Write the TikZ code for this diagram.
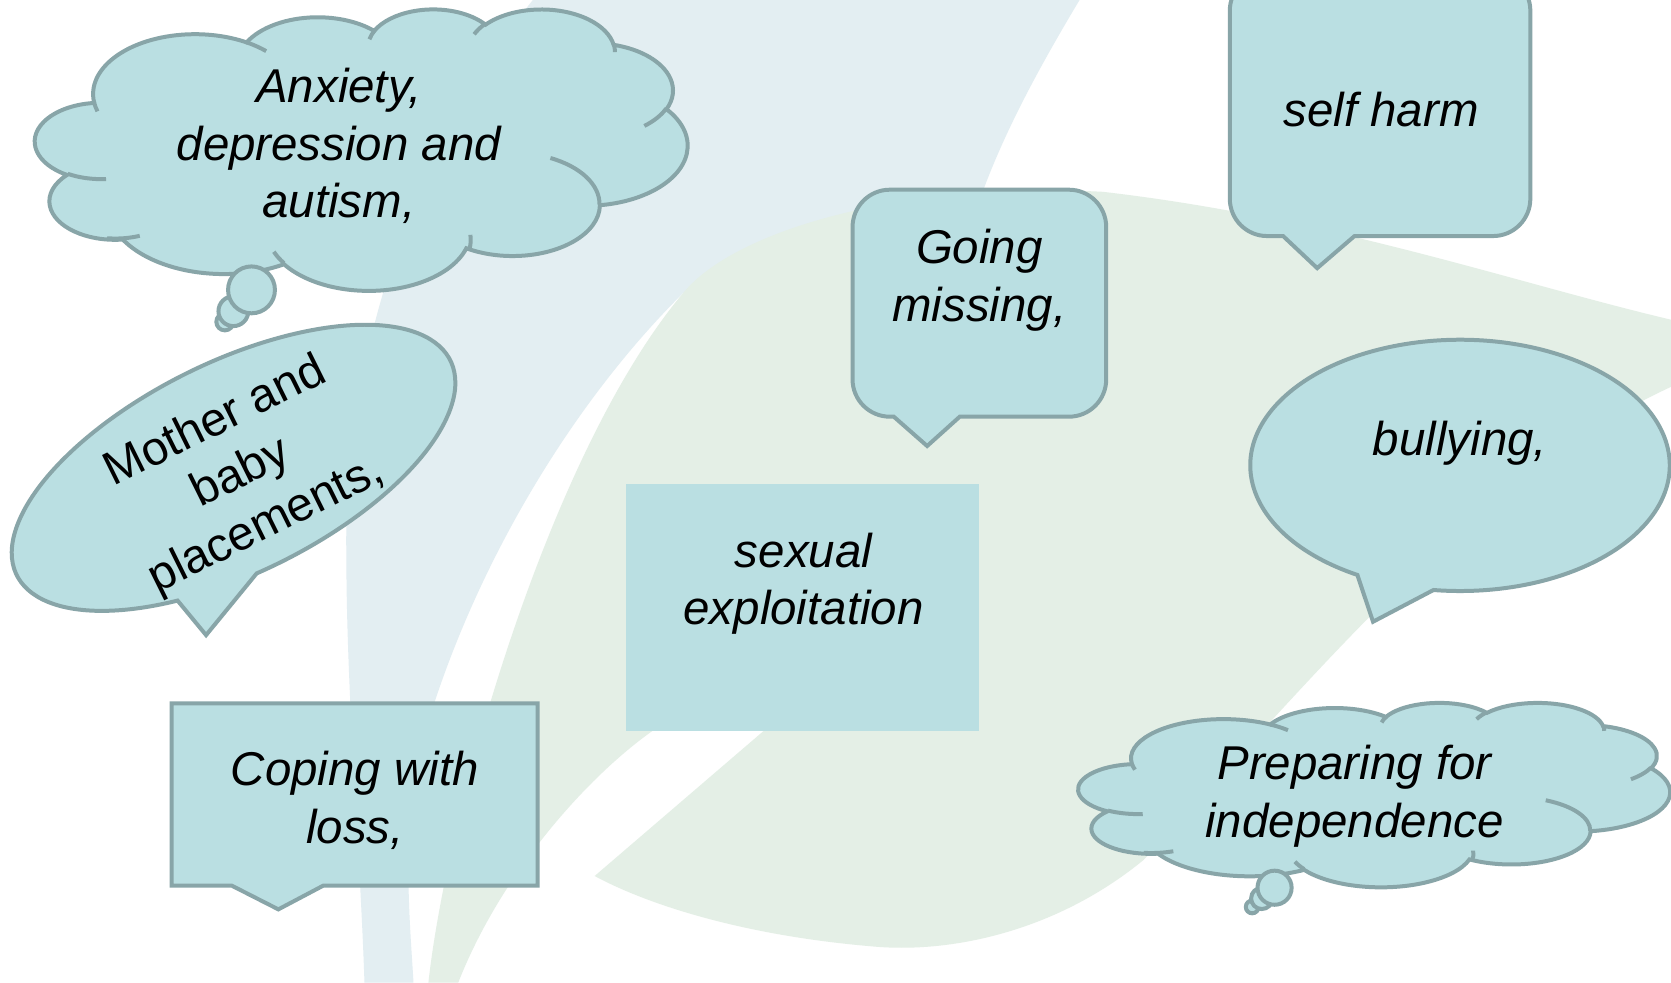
\documentclass[tikz,border=0pt]{standalone}
\usepackage{fontspec}
\setmainfont{Liberation Sans}
\definecolor{fillc}{HTML}{BADFE2}
\definecolor{linec}{HTML}{88A5A8}
\definecolor{bgblue}{HTML}{E3EEF2}
\definecolor{bggreen}{HTML}{E4EFE6}
\tikzset{
  bubble/.style={fill=fillc, draw=linec, line width=3.2pt},
  innerarc/.style={draw=linec, line width=3.2pt},
  plainbox/.style={fill=fillc},
  lbl/.style={font=\fontsize{38}{46}\selectfont\itshape, align=center, inner sep=0pt, text=black},
  lblup/.style={font=\fontsize{38}{46}\selectfont, align=center, inner sep=0pt, text=black},
}
\newcommand\mycloud[4]{%
\begin{scope}[shift={(#1,#2)},xscale=#3,yscale=#4]
\draw[bubble] (39.00,143.70)
 arc[start angle=-187.75, delta angle=128.11, x radius=67.53, y radius=91.90]
 arc[start angle=-152.03, delta angle=106.58, x radius=53.33, y radius=72.67]
 arc[start angle=-153.50, delta angle=116.17, x radius=43.65, y radius=59.45]
 arc[start angle=-139.72, delta angle=129.51, x radius=48.57, y radius=65.95]
 arc[start angle=-74.77, delta angle=97.98, x radius=53.33, y radius=72.73]
 arc[start angle=-37.54, delta angle=119.40, x radius=67.75, y radius=92.20]
 arc[start angle=0.46, delta angle=121.51, x radius=57.85, y radius=78.67]
 arc[start angle=16.84, delta angle=129.38, x radius=67.52, y radius=92.15]
 arc[start angle=58.98, delta angle=91.21, x radius=77.20, y radius=105.43]
 arc[start angle=-276.69, delta angle=139.80, x radius=43.60, y radius=59.18]
 arc[start angle=-239.64, delta angle=143.75, x radius=43.45, y radius=59.45]
 -- cycle;
\end{scope}}
\newcommand\mycloudlines[4]{%
\begin{scope}[shift={(#1,#2)},xscale=#3,yscale=#4]
\draw[innerarc]
 (46.93,261.77) arc[start angle=85.55, delta angle=34.81, x radius=43.45, y radius=59.45]
 (69.28,348.99) arc[start angle=68.24, delta angle=28.92, x radius=43.60, y radius=59.18]
 (164.78,390.90) arc[start angle=146.22, delta angle=12.26, x radius=67.52, y radius=92.15]
 (288.27,347.51) arc[start angle=-4.74, delta angle=14.76, x radius=67.52, y radius=92.15]
 (341.29,229.54) arc[start angle=-64.03, delta angle=64.49, x radius=57.85, y radius=78.67]
 (417.98,153.54) arc[start angle=23.21, delta angle=26.44, x radius=53.33, y radius=72.73]
 (383.24,54.26) arc[start angle=-10.21, delta angle=11.03, x radius=48.57, y radius=65.95]
 (290.78,39.52) arc[start angle=-156.29, delta angle=16.57, x radius=48.57, y radius=65.95]
 (221.41,47.20) arc[start angle=-167.73, delta angle=14.23, x radius=43.65, y radius=59.45]
 (140.00,51.92) arc[start angle=-59.64, delta angle=13.91, x radius=67.53, y radius=91.90]
 (41.27,157.89) arc[start angle=163.19, delta angle=9.06, x radius=67.53, y radius=91.90];
\end{scope}}
\begin{document}
\begin{tikzpicture}[x=0.03cm,y=-0.03cm]
\useasboundingbox (0,0) rectangle (1568,922);
\fill[white] (0,0) rectangle (1568,922);
% background leaves
\fill[bgblue] (500,0) -- (1013,0) .. controls (965,80) and (935,140) .. (915,200) -- (641,275)
  .. controls (525,390) and (430,560) .. (390,720) .. controls (378,800) and (385,870) .. (388,922)
  -- (342,922) .. controls (338,800) and (325,650) .. (325,520) .. controls (322,350) and (380,150) .. (500,0) -- cycle;
\fill[bggreen] (641,275) .. controls (690,215) and (850,170) .. (1035,180)
  .. controls (1250,205) and (1420,265) .. (1568,300) -- (1568,363)
  .. controls (1380,450) and (1230,640) .. (1073,807)
  .. controls (990,875) and (890,895) .. (818,888)
  .. controls (700,878) and (610,850) .. (558,822) -- (770,640) -- (612,686)
  .. controls (550,730) and (470,820) .. (430,922) -- (402,922)
  .. controls (420,760) and (515,425) .. (641,275) -- cycle;
% cloud 1
\mycloud{33}{8}{1.41667}{0.61111}
\draw[bubble] (211,302) circle[radius=8];
\draw[bubble] (219,292) circle[radius=14];
\draw[bubble] (236,272) circle[radius=22];
\mycloudlines{33}{8}{1.41667}{0.61111}
\node[lbl] (anx) at (318,137) {Anxiety,\\depression and\\autism,};
% cloud 2
\mycloud{1012}{659}{1.28472}{0.40046}
\draw[bubble] (1175,851) circle[radius=6];
\draw[bubble] (1184,843) circle[radius=10];
\draw[bubble] (1196,833) circle[radius=16];
\mycloudlines{1012}{659}{1.28472}{0.40046}
\node[lbl] (prep) at (1271,747) {Preparing for\\independence};
% self harm
\draw[bubble] (1189,-25) -- (1401,-25) arc[start angle=270, end angle=360, radius=35]
  -- (1436,186.5) arc[start angle=0, end angle=90, radius=35]
  -- (1271,221.5) -- (1236,251.6) -- (1204,221.5) -- (1189,221.5)
  arc[start angle=90, end angle=180, radius=35] -- (1154,10)
  arc[start angle=180, end angle=270, radius=35] -- cycle;
\node[lbl] (self) at (1296,103) {self harm};
% going missing
\draw[bubble] (835,178) -- (1003,178) arc[start angle=270, end angle=360, radius=35]
  -- (1038,356) arc[start angle=0, end angle=90, radius=35]
  -- (900.6,391) -- (870,418.5) -- (838.7,391) -- (835,391)
  arc[start angle=90, end angle=180, radius=35] -- (800,213)
  arc[start angle=180, end angle=270, radius=35] -- cycle;
\node[lbl] (going) at (919,263) {Going\\missing,};
% bullying
\draw[bubble] (1273.7,539.5) arc[start angle=119.3, end angle=457.27, x radius=196.8, y radius=117.9]
  -- (1288.4,583.4) -- cycle;
\node[lbl] (bully) at (1370,416) {bullying,};
% mother and baby
\begin{scope}[shift={(219,439)},rotate=26.34]
\draw[bubble] (-102.2,88.4) arc[start angle=116.8, end angle=456.2, x radius=227, y radius=99]
  -- (-92.6,129.3) -- cycle;
\node[lblup, rotate=26.34] (mother) at (4,8.5) {Mother and\\baby\\placements,};
\end{scope}
% sexual exploitation
\fill[plainbox] (587,454) rectangle (919,686);
\node[lbl] (sexual) at (754,548) {sexual\\exploitation};
% coping
\draw[bubble] (161,660) -- (504.5,660) -- (504.5,831) -- (303.4,831) -- (261.2,853.3)
  -- (217.4,831) -- (161,831) -- cycle;
\node[lbl] (coping) at (333,751) {Coping with\\loss,};
\end{tikzpicture}
\end{document}
